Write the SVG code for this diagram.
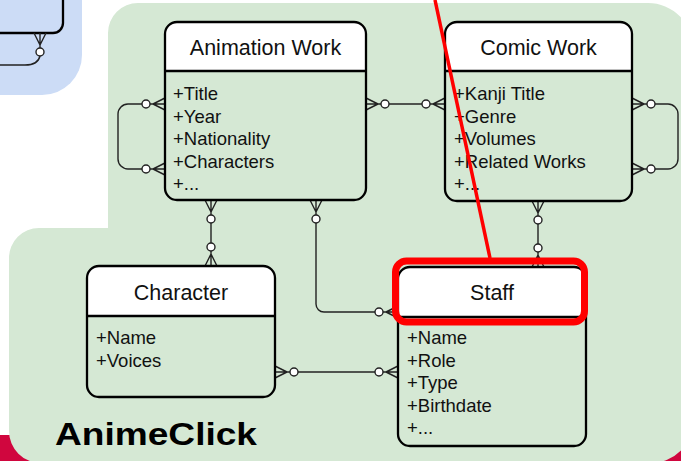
<svg xmlns="http://www.w3.org/2000/svg" xmlns:xlink="http://www.w3.org/1999/xlink" width="681" height="461" viewBox="0 0 681 461">
  <style>
    .box { fill: none; stroke: #000; stroke-width: 2.3; }
    .head { fill: #fff; stroke: none; }
    .sep { stroke: #000; stroke-width: 2.3; }
    .title { font-family: "Liberation Sans", Arial, sans-serif; font-size: 21.5px; fill: #111; text-anchor: middle; }
    .attr { font-family: "Liberation Sans", Arial, sans-serif; font-size: 18.5px; fill: #111; }
    .conn { fill: none; stroke: #222; stroke-width: 1.4; }
    .cf { fill: none; stroke: #222; stroke-width: 1.4; }
    .cf circle { fill: #fff; }
    .label { font-family: "Liberation Sans", Arial, sans-serif; font-weight: bold; font-size: 32px; fill: #000; }
  </style>
  <defs>
    <!-- zero-or-many end: crow's foot at the entity edge, circle further out (points along +x) -->
    <g id="zeroMany" class="cf">
      <path d="M0,-6 L12,0 M0,6 L12,0 M0,0 H15"/>
      <circle cx="19" cy="0" r="4"/>
    </g>
  </defs>

  <rect width="681" height="461" fill="#fff"/>

  <!-- background regions -->
  <rect x="0" y="435" width="681" height="26" fill="#d0063e"/>
  <rect x="-60" y="-60" width="142" height="155" rx="40" fill="#ccdcf6"/>
  <path d="M138,3 H648 A45,45 0 0 1 693,48 V421 A42,42 0 0 1 651,463 H41 A32,32 0 0 1 9,431 V258 A30,30 0 0 1 39,228 H108 V33 A30,30 0 0 1 138,3 Z" fill="#d5e8d4"/>

  <!-- partial entity in the blue region -->
  <g id="blue-entity">
    <path class="box" d="M0,33 H53 A10,10 0 0 0 63,23 V0"/>
    <use xlink:href="#zeroMany" transform="translate(40,33) rotate(90)"/>
    <path class="conn" d="M40,56 Q38,65 25,65 H0"/>
  </g>

  <!-- connectors -->
  <g id="connectors">
    <path class="conn" d="M142,104 H128 A10,10 0 0 0 118,114 V159 A10,10 0 0 0 128,169 H142"/>
    <use xlink:href="#zeroMany" transform="translate(165,104) rotate(180)"/>
    <use xlink:href="#zeroMany" transform="translate(165,169) rotate(180)"/>

    <path class="conn" d="M389,104 H422"/>
    <use xlink:href="#zeroMany" transform="translate(366,104)"/>
    <use xlink:href="#zeroMany" transform="translate(445,104) rotate(180)"/>

    <path class="conn" d="M655,104 H668 A10,10 0 0 1 678,114 V159 A10,10 0 0 1 668,169 H655"/>
    <use xlink:href="#zeroMany" transform="translate(632,104)"/>
    <use xlink:href="#zeroMany" transform="translate(632,169)"/>

    <path class="conn" d="M211,223 V243"/>
    <use xlink:href="#zeroMany" transform="translate(211,200) rotate(90)"/>
    <use xlink:href="#zeroMany" transform="translate(211,266) rotate(-90)"/>

    <path class="conn" d="M316,223 V304 A8,8 0 0 0 324,312 H375"/>
    <use xlink:href="#zeroMany" transform="translate(316,200) rotate(90)"/>
    <use xlink:href="#zeroMany" transform="translate(398,312) rotate(180)"/>

    <path class="conn" d="M538,224 V244"/>
    <use xlink:href="#zeroMany" transform="translate(538,201) rotate(90)"/>
    <use xlink:href="#zeroMany" transform="translate(538,267) rotate(-90)"/>

    <path class="conn" d="M298,372 H375"/>
    <use xlink:href="#zeroMany" transform="translate(275,372)"/>
    <use xlink:href="#zeroMany" transform="translate(398,372) rotate(180)"/>
  </g>

  <!-- entities -->
  <g id="animation-work">
    <path class="head" d="M165,71 V34 A12,12 0 0 1 177,22 H354 A12,12 0 0 1 366,34 V71 Z"/>
    <rect class="box" x="165" y="22" width="201" height="178" rx="12"/>
    <line class="sep" x1="165" y1="71" x2="366" y2="71"/>
    <text class="title" x="265.5" y="55">Animation Work</text>
    <text class="attr" x="173" y="100">+Title</text>
    <text class="attr" x="173" y="122.6">+Year</text>
    <text class="attr" x="173" y="145.2">+Nationality</text>
    <text class="attr" x="173" y="167.8">+Characters</text>
    <text class="attr" x="173" y="190.4">+...</text>
  </g>

  <g id="comic-work">
    <path class="head" d="M445,71 V34 A12,12 0 0 1 457,22 H620 A12,12 0 0 1 632,34 V71 Z"/>
    <rect class="box" x="445" y="22" width="187" height="179" rx="12"/>
    <line class="sep" x1="445" y1="71" x2="632" y2="71"/>
    <text class="title" x="538.5" y="55">Comic Work</text>
    <text class="attr" x="454" y="100">+Kanji Title</text>
    <text class="attr" x="454" y="122.6">+Genre</text>
    <text class="attr" x="454" y="145.2">+Volumes</text>
    <text class="attr" x="454" y="167.8">+Related Works</text>
    <text class="attr" x="454" y="190.4">+...</text>
  </g>

  <g id="character">
    <path class="head" d="M87,316 V278 A12,12 0 0 1 99,266 H263 A12,12 0 0 1 275,278 V316 Z"/>
    <rect class="box" x="87" y="266" width="188" height="131" rx="12"/>
    <line class="sep" x1="87" y1="316" x2="275" y2="316"/>
    <text class="title" x="181" y="300">Character</text>
    <text class="attr" x="96" y="344">+Name</text>
    <text class="attr" x="96" y="366.6">+Voices</text>
  </g>

  <g id="staff">
    <path class="head" d="M398,317 V279 A12,12 0 0 1 410,267 H574 A12,12 0 0 1 586,279 V317 Z"/>
    <rect class="box" x="398" y="267" width="188" height="179" rx="12"/>
    <line class="sep" x1="398" y1="317" x2="586" y2="317"/>
    <text class="title" x="492" y="300">Staff</text>
    <text class="attr" x="407" y="344">+Name</text>
    <text class="attr" x="407" y="366.6">+Role</text>
    <text class="attr" x="407" y="389.2">+Type</text>
    <text class="attr" x="407" y="411.8">+Birthdate</text>
    <text class="attr" x="407" y="434.4">+...</text>
  </g>

  <text class="label" x="55" y="445" textLength="202" lengthAdjust="spacingAndGlyphs">AnimeClick</text>

  <!-- highlight -->
  <g id="highlight">
    <line x1="435" y1="0" x2="490" y2="258" stroke="#ff0000" stroke-width="3.5"/>
    <rect x="395.5" y="261" width="189" height="61" rx="11" fill="none" stroke="#ff0000" stroke-width="7"/>
  </g>
</svg>
